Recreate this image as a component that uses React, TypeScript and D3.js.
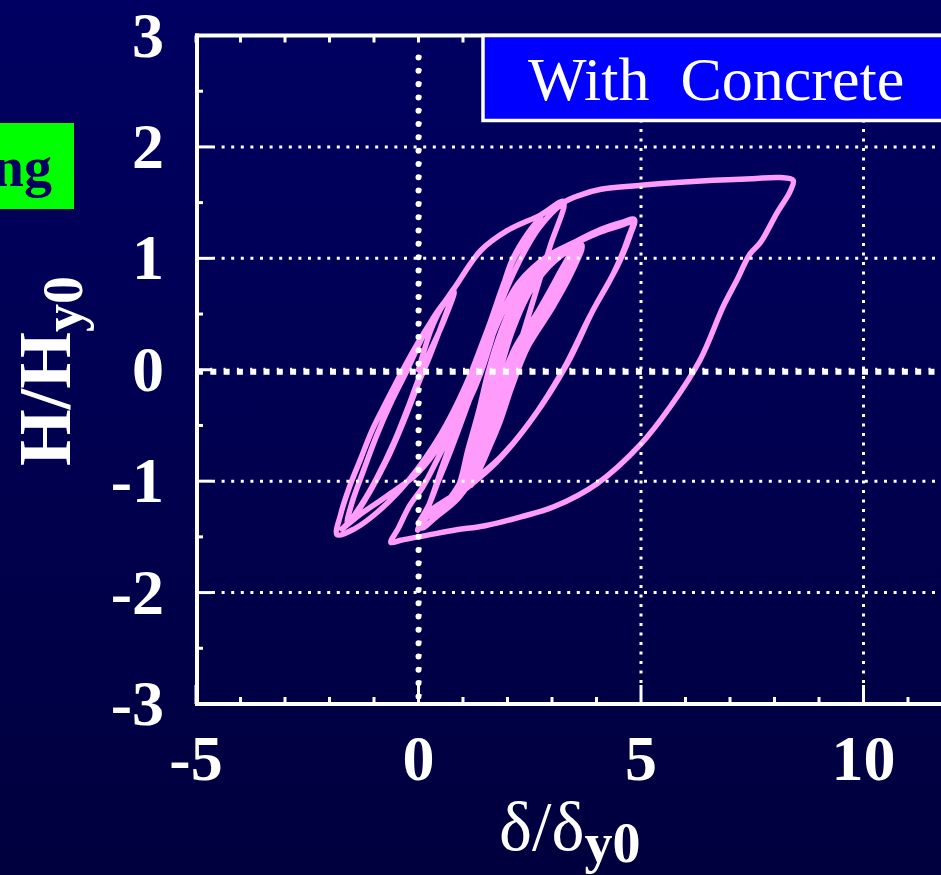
import React from "react";
import * as d3 from "d3";

const W = 941;
const H = 875;

// Tick labels
const xTickLabels = [-5, 0, 5, 10];
const yTickLabels = [3, 2, 1, 0, -1, -2, -3];
const xGridValues = [5, 10];
const yGridValues = [2, 1, -1, -2];

// Hysteresis record (δ/δy0, H/Hy0), traced in order
const initialLoad = [[0, 0], [0.3, 0.38], [0.55, 0.58], [0.8, 0.7]];
const unloadP0 = [[0.55, 0.42], [0.3, 0.2], [0.08, 0.0], [-0.2, -0.3], [-0.55, -0.65], [-0.95, -0.98], [-1.3, -1.22], [-1.6, -1.38]];
const reloadInner = [[-1.5, -1.2], [-1.25, -0.92], [-0.95, -0.6], [-0.6, -0.28], [-0.25, 0.0], [0.1, 0.3], [0.42, 0.52], [0.75, 0.68]];
const unloadP0b = [[0.5, 0.38], [0.25, 0.12], [0.0, -0.12], [-0.32, -0.45], [-0.7, -0.8], [-1.1, -1.1], [-1.45, -1.32], [-1.72, -1.43]];
const reloadShallow = [[-1.35, -1.31], [-0.7, -1.13], [0.0, -0.92], [0.6, -0.6], [1.05, -0.25], [1.4, 0.08], [1.75, 0.55], [2.1, 0.98], [2.45, 1.22], [2.75, 1.37]];
const unloadP1 = [[2.14, 0.99], [1.55, 0.36], [1.05, -0.15], [0.5, -0.58], [-0.2, -0.98], [-0.9, -1.27], [-1.45, -1.43], [-1.83, -1.48]];
const reloadEnvelope = [[-1.75, -1.3], [-1.55, -1.05], [-1.3, -0.8], [-1.05, -0.55], [-0.7, -0.27], [-0.35, 0.0], [0.0, 0.25], [0.28, 0.43], [0.8, 0.73], [1.4, 1.07], [2.0, 1.25], [2.75, 1.39], [3.26, 1.51]];
const unloadP2 = [[2.95, 1.1], [2.6, 0.65], [2.25, 0.2], [1.85, -0.25], [1.35, -0.7], [0.8, -1.1], [0.3, -1.35]];
// many small cycles packed in the middle
const dense1 = [[0.86, -1.08], [1.11, -0.72], [1.36, -0.36], [1.58, 0.0], [1.86, 0.35], [2.26, 0.7], [2.81, 0.96], [3.42, 1.08], [3.17, 0.87], [2.71, 0.54], [2.16, 0.19], [1.81, -0.16], [1.56, -0.51], [1.24, -0.83], [0.95, -1.07]];
const dense2 = [[1.15, -0.72], [1.4, -0.36], [1.62, 0.0], [1.9, 0.35], [2.3, 0.7], [2.85, 0.97], [3.46, 1.09], [3.21, 0.87], [2.75, 0.54], [2.2, 0.19], [1.85, -0.15], [1.6, -0.5], [1.28, -0.83], [0.98, -1.06]];
const dense3 = [[1.19, -0.71], [1.44, -0.35], [1.66, 0.0], [1.94, 0.35], [2.34, 0.7], [2.89, 0.97], [3.49, 1.09], [3.24, 0.88], [2.79, 0.55], [2.24, 0.2], [1.89, -0.15], [1.64, -0.5], [1.32, -0.82], [1.02, -1.06]];
const dense4 = [[1.22, -0.7], [1.47, -0.35], [1.69, 0.0], [1.97, 0.35], [2.37, 0.7], [2.92, 0.97], [3.52, 1.1], [3.27, 0.88], [2.82, 0.55], [2.27, 0.2], [1.92, -0.15], [1.67, -0.5], [1.35, -0.82], [1.05, -1.05]];
const dense5 = [[1.25, -0.7], [1.5, -0.35], [1.72, 0.0], [2.0, 0.35], [2.4, 0.7], [2.95, 0.97], [3.55, 1.1], [3.3, 0.88], [2.85, 0.55], [2.3, 0.2], [1.95, -0.15], [1.7, -0.5], [1.38, -0.82], [1.08, -1.05]];
const dense6 = [[1.28, -0.7], [1.53, -0.35], [1.75, 0.0], [2.03, 0.35], [2.43, 0.7], [2.98, 0.97], [3.58, 1.1], [3.33, 0.88], [2.88, 0.55], [2.33, 0.2], [1.98, -0.15], [1.73, -0.5], [1.41, -0.82], [1.11, -1.05]];
const dense7 = [[1.31, -0.69], [1.56, -0.34], [1.78, 0.0], [2.06, 0.36], [2.46, 0.71], [3.01, 0.98], [3.61, 1.11], [3.36, 0.89], [2.91, 0.56], [2.36, 0.2], [2.01, -0.15], [1.76, -0.5], [1.44, -0.82], [1.14, -1.04]];
const dense8 = [[1.34, -0.69], [1.59, -0.34], [1.81, 0.0], [2.09, 0.36], [2.49, 0.71], [3.04, 0.98], [3.64, 1.11], [3.39, 0.89], [2.94, 0.56], [2.39, 0.21], [2.04, -0.14], [1.79, -0.49], [1.47, -0.81], [1.17, -1.04]];
const dense9 = [[1.37, -0.68], [1.62, -0.33], [1.84, 0.0], [2.12, 0.36], [2.52, 0.71], [3.07, 0.98], [3.67, 1.12]];
const unloadDense = [[3.45, 0.88], [3.0, 0.55], [2.45, 0.2], [2.1, -0.15], [1.8, -0.5], [1.4, -0.85], [0.9, -1.15], [0.4, -1.32], [0.08, -1.42]];
const loopP3a = [[0.3, -1.15], [0.7, -0.75], [1.1, -0.32], [1.45, 0.08], [1.85, 0.48], [2.3, 0.8], [2.9, 1.02], [3.48, 1.14], [4.1, 1.26], [4.55, 1.32], [4.85, 1.35], [4.75, 1.2], [4.47, 0.93], [3.93, 0.54], [3.35, 0.06], [2.59, -0.42], [1.85, -0.78], [0.95, -1.08], [0.21, -1.28], [0.0, -1.38]];
const loopP3b = [[0.25, -1.2], [0.62, -0.8], [1.02, -0.36], [1.38, 0.04], [1.8, 0.45], [2.25, 0.78], [2.85, 1.0], [3.45, 1.12], [4.05, 1.23], [4.5, 1.29], [4.8, 1.32], [4.7, 1.17], [4.4, 0.88], [3.85, 0.48], [3.25, 0.0], [2.5, -0.47], [1.75, -0.83], [0.9, -1.12], [0.2, -1.32], [-0.02, -1.44]];
const reloadBig = [[0.2, -1.25], [0.55, -0.85], [0.95, -0.4], [1.3, 0.0], [1.7, 0.45], [2.2, 0.92], [2.7, 1.27], [3.26, 1.5], [3.65, 1.57], [4.1, 1.62], [5.0, 1.655], [5.8, 1.68], [6.63, 1.7], [7.5, 1.715], [8.13, 1.725], [8.42, 1.7]];
const unloadBig = [[8.35, 1.6], [8.06, 1.41], [7.68, 1.14], [7.45, 1.04], [7.15, 0.8], [6.85, 0.57], [6.33, 0.09], [5.66, -0.33], [4.99, -0.67], [4.02, -1.02], [3.04, -1.23], [2.3, -1.32], [1.5, -1.4], [0.8, -1.44], [0.0, -1.5], [-0.4, -1.53], [-0.62, -1.55]];
const finalReload = [[-0.45, -1.42], [-0.2, -1.22], [0.1, -1.05], [0.57, -0.69], [1.11, -0.3], [1.4, -0.03], [1.7, 0.35]];

const record = [
  initialLoad, unloadP0, reloadInner, unloadP0b, reloadShallow, unloadP1,
  reloadEnvelope, unloadP2, dense1, dense2, dense3, dense4, dense5, dense6,
  dense7, dense8, dense9, unloadDense, loopP3a, loopP3b, reloadBig, unloadBig, finalReload,
].flat();

const FONT = "'Liberation Serif', 'Times New Roman', serif";

export default function App() {
  const x = d3.scaleLinear().domain([-5, 15]).range([196, 196 + 20 * 44.5]);
  const y = d3.scaleLinear().domain([-3, 3]).range([704, 35.5]);
  const left = x(-5) + 1;
  const top = y(3);
  const bottom = y(-3);

  const line = d3
    .line<number[]>()
    .x((d) => x(d[0]))
    .y((d) => y(d[1]))
    .curve(d3.curveCatmullRom.alpha(0.5));

  const yTicks = d3.range(-3, 3.01, 0.5);
  const xTicks = d3.range(-5, 15.01, 1);

  return (
    <svg
      width={W}
      height={H}
      style={{ position: "absolute", left: 0, top: 0, display: "block" }}
    >
      <defs>
        <linearGradient id="bg" x1="0" y1="0" x2="0" y2="1">
          <stop offset="0" stopColor="#000062" />
          <stop offset="1" stopColor="#00003e" />
        </linearGradient>
      </defs>
      <rect x={0} y={0} width={W} height={H} fill="url(#bg)" />

      {/* green label fragment */}
      <rect x={-5} y={123} width={79} height={86} fill="#00ff00" />
      <text x={52} y={186} textAnchor="end" fontFamily={FONT} fontWeight="bold" fontSize={56} fill="#000060">
        ng
      </text>

      {/* hysteresis curve */}
      <path
        d={line(record) || ""}
        fill="none"
        stroke="#ff9bfa"
        strokeWidth={5.5}
        strokeLinejoin="round"
        strokeLinecap="round"
      />

      {/* grid lines */}
      {yGridValues.map((v) => (
        <line key={"gy" + v} x1={left + 15} x2={W + 10} y1={y(v)} y2={y(v)} stroke="#fff" strokeWidth={3} strokeDasharray="3 6.6" />
      ))}
      {xGridValues.map((v) => (
        <line key={"gx" + v} x1={x(v)} x2={x(v)} y1={top + 8} y2={bottom - 19} stroke="#fff" strokeWidth={3} strokeDasharray="3 6.5" />
      ))}
      {/* zero lines */}
      <line x1={left} x2={W + 10} y1={y(0) + 2} y2={y(0) + 2} stroke="#fff" strokeWidth={6} strokeDasharray="6 7.3" />
      <line x1={left} x2={W + 10} y1={y(0) - 1} y2={y(0) - 1} stroke="#fff" strokeWidth={2} strokeDasharray="2 11.3" />
      <line x1={x(0)} x2={x(0)} y1={top + 22} y2={bottom} stroke="#fff" strokeWidth={6} strokeLinecap="round" strokeDasharray="0.01 13.3" />
      <line x1={x(0) + 2} x2={x(0) + 2} y1={top + 20} y2={bottom} stroke="#fff" strokeWidth={2} strokeDasharray="2 11.3" />

      {/* axes */}
      <line x1={left} x2={left} y1={top - 2} y2={bottom + 2} stroke="#fff" strokeWidth={4} />
      <line x1={left - 2} x2={W + 10} y1={top} y2={top} stroke="#fff" strokeWidth={4} />
      <line x1={left - 2} x2={W + 10} y1={bottom} y2={bottom} stroke="#fff" strokeWidth={4} />
      {yTicks.map((v) => {
        const major = Math.abs(v - Math.round(v)) < 1e-6;
        return (
          <line key={"ty" + v} x1={left} x2={left + (major ? 15 : 6)} y1={y(v)} y2={y(v)} stroke="#fff" strokeWidth={3} />
        );
      })}
      {xTicks.map((v) => {
        const major = Math.round(v) % 5 === 0;
        return (
          <g key={"tx" + v}>
            <line x1={x(v)} x2={x(v)} y1={bottom} y2={bottom - (major ? 19 : 7)} stroke="#fff" strokeWidth={3} />
            <line x1={x(v)} x2={x(v)} y1={top} y2={top + 7} stroke="#fff" strokeWidth={3} />
          </g>
        );
      })}

      {/* tick labels */}
      {yTickLabels.map((v) => (
        <text key={"ly" + v} x={164} y={y(v) + 21} textAnchor="end" fontFamily={FONT} fontWeight="bold" fontSize={64} fill="#fff">
          {v < 0 ? "-" + Math.abs(v) : String(v)}
        </text>
      ))}
      {xTickLabels.map((v) => (
        <text key={"lx" + v} x={x(v)} y={780} textAnchor="middle" fontFamily={FONT} fontWeight="bold" fontSize={64} fill="#fff">
          {v < 0 ? "-" + Math.abs(v) : String(v)}
        </text>
      ))}

      {/* axis titles */}
      <text x={499} y={850} fontFamily={FONT} fontSize={70} fill="#fff">
        <tspan>δ/δ</tspan>
        <tspan fontWeight="bold" fontSize={56} dy={12}>y0</tspan>
      </text>
      <g transform={`translate(70, 371) rotate(-90)`}>
        <text x={0} y={0} textAnchor="middle" fontFamily={FONT} fontWeight="bold" fontSize={73} fill="#fff">
          <tspan>H/H</tspan>
          <tspan fontSize={56} dy={12}>y0</tspan>
        </text>
      </g>

      {/* label box */}
      <rect x={483} y={top} width={520} height={85} fill="#0000ff" stroke="#fff" strokeWidth={3.5} />
      <text x={528} y={100} fontFamily={FONT} fontSize={62} fill="#fff" style={{ whiteSpace: "pre" }}>
        {"With  Concrete"}
      </text>
    </svg>
  );
}
